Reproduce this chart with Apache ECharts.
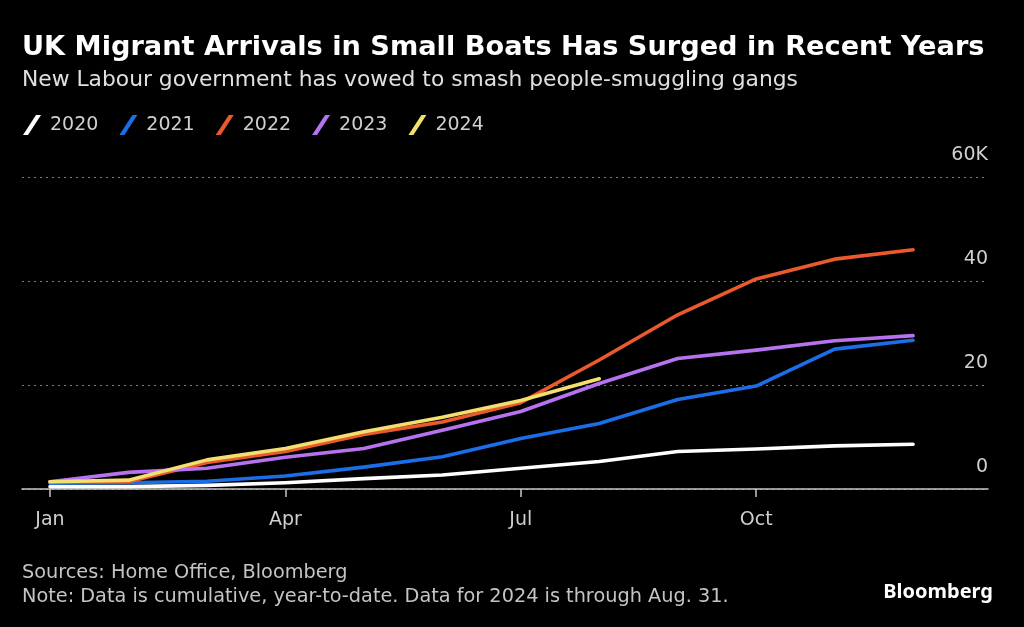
<!DOCTYPE html>
<html>
<head>
<meta charset="utf-8">
<script src="https://cdn.jsdelivr.net/npm/echarts@6/dist/echarts.min.js"></script>
<style>html,body{margin:0;padding:0;background:#000;}#c{width:1024px;height:627px;}</style>
</head>
<body>
<div id="c"></div>
<script>
const months = ['Jan','Feb','Mar','Apr','May','Jun','Jul','Aug','Sep','Oct','Nov','Dec'];
const tickMonths = [0, 3, 6, 9];
const yTicks = [0, 20, 40, 60];
const years = ['2020','2021','2022','2023','2024'];
// cumulative arrivals, thousands
const y2020 = [0.45, 0.45, 0.7, 1.2, 2.0, 2.7, 4.0, 5.3, 7.2, 7.7, 8.3, 8.6];
const y2021 = [1.1, 1.2, 1.5, 2.5, 4.2, 6.2, 9.7, 12.6, 17.2, 19.8, 26.9, 28.6];
const y2022 = [1.4, 1.4, 5.1, 7.2, 10.5, 12.9, 16.6, 24.8, 33.5, 40.4, 44.2, 46.0];
const y2023 = [1.4, 3.2, 4.0, 6.1, 7.8, 11.3, 14.9, 20.3, 25.1, 26.7, 28.5, 29.5];
const y2024 = [1.4, 1.7, 5.6, 7.8, 11.0, 13.8, 17.0, 21.2];
const colors = ['#ffffff', '#1b6ee8', '#ea5a2d', '#b672ef', '#f3df6e'];

const FONT = 'DejaVu Sans';
const chart = echarts.init(document.getElementById('c'));
const all = [y2020, y2021, y2022, y2023, y2024];
const series = all.map((arr, k) => ({
  name: years[k],
  type: 'line',
  data: arr.map((v, i) => [i, v]),
  showSymbol: false,
  symbol: 'none',
  lineStyle: { width: 3.6, color: colors[k], cap: 'round', join: 'round' },
  itemStyle: { color: colors[k] },
  emphasis: { disabled: true },
  z: 2 + k
}));

chart.setOption({
  backgroundColor: '#000',
  animation: false,
  textStyle: { fontFamily: FONT },
  legend: {
    left: 23, top: 115, padding: 0,
    itemWidth: 18, itemHeight: 20, itemGap: 21,
    icon: 'path://M0,20 L5,20 L18,0 L13,0 Z',
    textStyle: { color: '#d0d0d0', fontSize: 19, fontFamily: FONT, padding: [0,0,0,4] },
    data: years.map((y, k) => ({ name: y, itemStyle: { color: colors[k] } }))
  },
  grid: { left: 22, right: 36, top: 177, bottom: 138, containLabel: false },
  xAxis: {
    type: 'value', min: -0.357, max: 11.955,
    axisLine: { show: true, lineStyle: { color: '#c8c8c8', width: 1.5 } },
    axisTick: { show: true, customValues: tickMonths, length: 8, lineStyle: { color: '#c8c8c8', width: 1.5 } },
    axisLabel: { customValues: tickMonths, formatter: v => months[Math.round(v)], color: '#cfcfcf', fontSize: 19, margin: 22, fontFamily: FONT },
    splitLine: { show: false }
  },
  yAxis: {
    type: 'value', position: 'right', min: 0, max: 60, interval: 20,
    axisLine: { show: false }, axisTick: { show: false },
    axisLabel: {
      inside: true, margin: 0, color: '#d0d0d0', fontSize: 19, fontFamily: FONT,
      verticalAlign: 'bottom', padding: [0, 0, 12, 0],
      formatter: v => (v === yTicks[3] ? v + 'K' : String(v))
    },
    splitLine: { show: true, lineStyle: { color: '#7a7a7a', type: [2, 4], width: 1.2 } }
  },
  graphic: [
    { type: 'text', x: 22, y: 48, style: { text: 'UK Migrant Arrivals in Small Boats Has Surged in Recent Years', fontSize: 27.2, fontWeight: 'bold', fontFamily: FONT, fill: '#ffffff', verticalAlign: 'middle' } },
    { type: 'text', x: 22, y: 80, style: { text: 'New Labour government has vowed to smash people-smuggling gangs', fontSize: 21.8, fontFamily: FONT, fill: '#e0e0e0', verticalAlign: 'middle' } },
    { type: 'text', x: 22, y: 573, style: { text: 'Sources: Home Office, Bloomberg', fontSize: 19.3, fontFamily: FONT, fill: '#c4c4c4', verticalAlign: 'middle' } },
    { type: 'text', x: 22, y: 597, style: { text: 'Note: Data is cumulative, year-to-date. Data for 2024 is through Aug. 31.', fontSize: 19.3, fontFamily: FONT, fill: '#c4c4c4', verticalAlign: 'middle' } },
    { type: 'text', x: 993, y: 592, style: { text: 'Bloomberg', fontSize: 20, fontWeight: 'bold', fontFamily: 'Noto Sans', fill: '#ffffff', verticalAlign: 'middle', align: 'right' } }
  ],
  series: series
});
</script>
</body>
</html>
